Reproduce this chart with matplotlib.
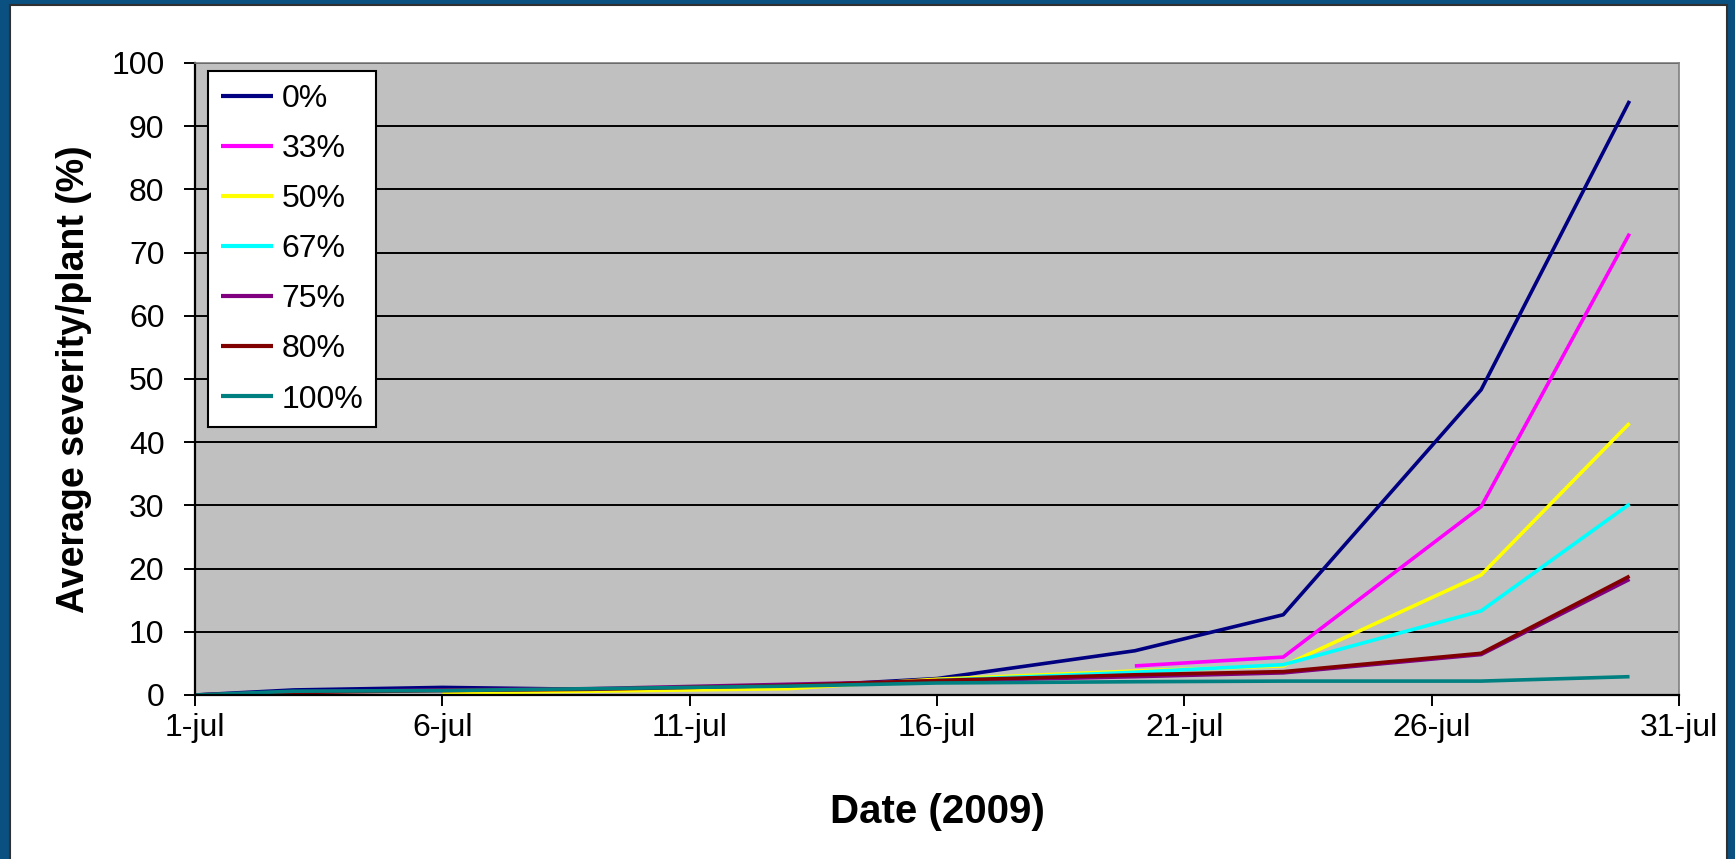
import datetime as dt
import matplotlib
matplotlib.use("Agg")
from matplotlib import pyplot as plt
from matplotlib.patches import Rectangle
from matplotlib.ticker import FixedLocator, FuncFormatter
import matplotlib.dates as mdates

# July 2009 observation days
days = [1, 3, 6, 9, 13, 16, 20, 23, 27, 30]

sev_0 = [0.0, 0.8, 1.2, 0.9, 1.3, 2.6, 7.0, 12.7, 48.3, 94.0]
sev_33 = [None, None, None, None, None, None, 4.6, 6.0, 29.8, 73.0]
sev_50 = [None, None, 0.3, 0.6, 1.0, 2.5, 3.8, 4.6, 19.0, 43.0]
sev_67 = [None, None, None, None, None, 2.3, 3.6, 4.8, 13.3, 30.2]
sev_75 = [0.0, 0.5, 0.8, 1.0, 1.7, 2.2, 2.9, 3.5, 6.4, 18.3]
sev_80 = [0.0, 0.4, 0.7, 0.9, 1.5, 2.3, 3.2, 3.7, 6.6, 18.8]
sev_100 = [0.0, 0.6, 0.7, 1.0, 1.4, 1.9, 2.1, 2.2, 2.2, 2.9]

labels = ["0%", "33%", "50%", "67%", "75%", "80%", "100%"]
colors = ["#000080", "#FF00FF", "#FFFF00", "#00FFFF", "#800080", "#800000", "#008080"]
series = [sev_0, sev_33, sev_50, sev_67, sev_75, sev_80, sev_100]

W, H = 1735, 859
plt.rcParams["font.family"] = ["Liberation Sans", "DejaVu Sans"]
fig = plt.figure(figsize=(W / 100, H / 100), dpi=100, facecolor="#0a5080")

# white chart area inside the blue frame
frame = Rectangle((10 / W, -0.05), 1717 / W, 1.05 - 5 / H,
                  transform=fig.transFigure, facecolor="white",
                  edgecolor="#303030", linewidth=1.5, zorder=-1)
fig.add_artist(frame)

ax = fig.add_axes([195 / W, 1 - 695 / H, (1679 - 195) / W, (695 - 63) / H])
ax.set_zorder(2)
ax.set_facecolor("#C0C0C0")

for vals, lab, col in zip(series, labels, colors):
    xs = [dt.date(2009, 7, d) for d, v in zip(days, vals) if v is not None]
    ys = [v for v in vals if v is not None]
    ax.plot(xs, ys, color=col, linewidth=2.6, label=lab, solid_capstyle="butt")

ax.set_xlim(dt.date(2009, 7, 1), dt.date(2009, 7, 31))
ax.set_ylim(0, 100)
ax.yaxis.set_major_locator(FixedLocator(range(0, 101, 10)))
ax.xaxis.set_major_locator(FixedLocator([mdates.date2num(dt.date(2009, 7, d)) for d in range(1, 32, 5)]))
ax.xaxis.set_major_formatter(FuncFormatter(lambda x, pos: f"{mdates.num2date(x).day}-jul"))

ax.grid(axis="y", color="black", linewidth=1.4)
ax.set_axisbelow(True)
for side in ["top", "right"]:
    ax.spines[side].set_color("#808080")
    ax.spines[side].set_linewidth(1.2)
for side in ["left", "bottom"]:
    ax.spines[side].set_color("black")
    ax.spines[side].set_linewidth(1.6)

ax.tick_params(axis="y", direction="out", length=8, width=1.4, pad=14, labelsize=23)
ax.tick_params(axis="x", direction="out", length=8, width=1.4, pad=5, labelsize=23)

ax.set_xlabel("Date (2009)", fontsize=29, fontweight="bold", labelpad=36)
ax.set_ylabel("Average severity/plant (%)", fontsize=27, fontweight="bold", labelpad=14)

leg = ax.legend(loc="upper left", bbox_to_anchor=(208 / W, 1 - 71 / H),
                bbox_transform=fig.transFigure, fontsize=23, frameon=True,
                fancybox=False, framealpha=1, edgecolor="black",
                handlelength=1.65, handletextpad=0.25, labelspacing=0.63,
                borderpad=0.4, borderaxespad=0)
leg.get_frame().set_linewidth(1.5)
for line in leg.get_lines():
    line.set_linewidth(3.0)

fig.savefig("out.png", dpi=100, facecolor=fig.get_facecolor())
